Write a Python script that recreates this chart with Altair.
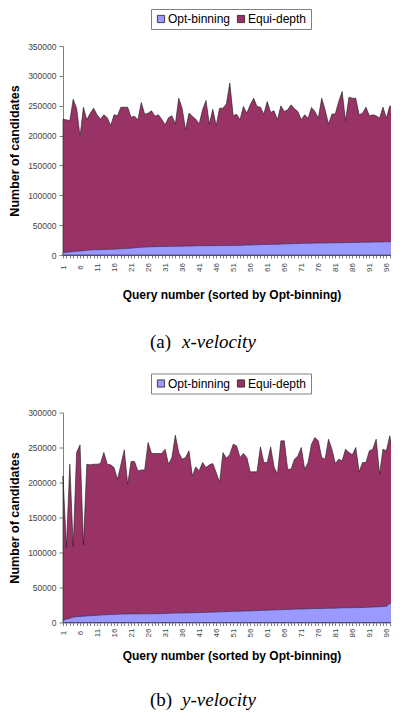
import altair as alt
import pandas as pd

# ---------------- data ----------------
queries = list(range(1, 101))
series_names = ["Opt-binning", "Equi-depth"]
series_colors = ["#9999FF", "#993366"]

# (a) x-velocity
x_opt = [4000, 4500, 5000, 5800, 6300, 6800, 7300, 7800, 8300, 8600,
         8800, 9000, 9200, 9400, 9600, 9800, 10100, 10400, 10700, 11000,
         11500, 12000, 12400, 12800, 13200, 13500, 13900, 14000, 14100, 14200,
         14300, 14400, 14500, 14600, 14700, 14800, 14900, 15000, 15200, 15400,
         15500, 15550, 15600, 15650, 15700, 15750, 15800, 15850, 15900, 15950,
         16000, 16100, 16200, 16400, 16600, 16800, 17000, 17200, 17400, 17600,
         17700, 17800, 17900, 18100, 18300, 18500, 18700, 18900, 19100, 19300,
         19500, 19600, 19700, 19800, 19900, 20000, 20100, 20200, 20300, 20400,
         20500, 20600, 20700, 20800, 20900, 21000, 21100, 21200, 21300, 21400,
         21500, 21600, 21700, 21800, 21900, 22000, 22200, 22500, 23500, 25000]
x_equi = [227500, 226400, 224800, 260900, 245800, 198600, 247500, 226400, 237500, 245800,
          234800, 227500, 234800, 230000, 217000, 234800, 233200, 247500, 247500, 247500,
          230800, 232500, 226400, 255400, 235800, 237500, 241500, 232500, 234800, 227500,
          218100, 230000, 233200, 219200, 262600, 245800, 209700, 237500, 232500, 227500,
          219200, 243100, 258700, 219200, 244000, 217000, 245800, 245800, 253200, 288000,
          233100, 235900, 226400, 248700, 237500, 251500, 262600, 248700, 247600, 235900,
          257000, 238700, 241500, 226400, 249800, 240300, 243100, 251500, 244800, 240300,
          226400, 234800, 229200, 247000, 240300, 229200, 262600, 243100, 219200, 235900,
          236500, 257000, 273700, 224800, 264200, 262600, 262600, 234800, 237500, 247600,
          233100, 234800, 233100, 229200, 247600, 229200, 249800, 245900, 247600, 247600]

# (b) y-velocity
y_opt = [3300, 4800, 6200, 7600, 8200, 8700, 9100, 9400, 9700, 10000,
         10300, 10600, 10900, 11200, 11400, 11600, 11800, 12000, 12100, 12200,
         12300, 12300, 12300, 12400, 12400, 12400, 12500, 12500, 12600, 12700,
         13000, 13200, 13300, 13400, 13500, 13600, 13700, 13800, 13900, 14000,
         14200, 14400, 14500, 14700, 14800, 15000, 15200, 15300, 15500, 15700,
         15900, 16000, 16100, 16300, 16400, 16600, 16800, 17000, 17200, 17400,
         17600, 17800, 18000, 18100, 18300, 18500, 18700, 18900, 19100, 19200,
         19300, 19400, 19500, 19700, 19900, 20000, 20100, 20200, 20300, 20400,
         20500, 20700, 20900, 21000, 21100, 21200, 21300, 21400, 21500, 21700,
         21900, 22100, 22300, 22600, 22900, 23300, 27000, 28000, 28200, 28300]
y_equi = [209400, 107100, 226100, 108000, 242800, 253700, 110900, 226100, 225200, 226100,
          226100, 227100, 242800, 226100, 225200, 221400, 204700, 225000, 246600, 197600,
          230000, 230000, 216600, 218000, 218000, 257100, 241400, 241400, 241400, 241400,
          247600, 226100, 235700, 267600, 242800, 233300, 235700, 245200, 209400, 222300,
          216600, 228600, 221400, 225200, 227100, 214300, 200000, 242800, 234700, 240000,
          254700, 252400, 235700, 241400, 235700, 215200, 215200, 215200, 250900, 228600,
          228600, 250900, 222300, 211900, 259500, 259500, 219000, 219000, 233300, 238000,
          250000, 219000, 228600, 254700, 264300, 259500, 235700, 233300, 261900, 247600,
          227100, 233300, 230900, 247600, 242900, 239500, 250000, 215200, 228600, 228600,
          245200, 247600, 261900, 211900, 247600, 245200, 266700, 235700, 228600, 230900]

ticks_a = [0, 50000, 100000, 150000, 200000, 250000, 300000, 350000]
ticks_b = [0, 50000, 100000, 150000, 200000, 250000, 300000]

x_title = "Query number (sorted by Opt-binning)"
y_title = "Number of candidates"

SANS = "Liberation Sans"
SERIF = "Liberation Serif"
PLOT_W = 337


def panel(opt, equi, ticks, height, legend_y, label_pad, title_pad,
          letter, word, cap_y):
    df = pd.DataFrame({
        "q": queries + queries,
        "v": opt + equi,
        "s": [series_names[0]] * len(opt) + [series_names[1]] * len(equi),
    })
    color = alt.Color(
        "s:N",
        scale=alt.Scale(domain=series_names, range=series_colors),
        legend=alt.Legend(
            title=None, orient="none", legendX=88, legendY=legend_y,
            direction="horizontal", symbolType="square", symbolSize=52,
            symbolStrokeColor="#222222", symbolStrokeWidth=0.8,
            symbolOpacity=1,
            labelFont=SANS, labelFontSize=12, labelColor="black",
            labelOffset=1, columnPadding=4, padding=4,
            strokeColor="#808080", fillColor="white",
        ),
    )
    x = alt.X(
        "q:Q", title=x_title,
        scale=alt.Scale(domain=[1, 100], nice=False, zero=False),
        axis=alt.Axis(
            values=queries, grid=False,
            labelExpr="(datum.value - 1) % 5 == 0 ? datum.label : ''",
            labelAngle=270, labelAlign="center", labelBaseline="middle",
            labelOverlap=False, labelFlush=False,
            labelFont=SANS, labelFontSize=8, labelColor="#444444",
            labelPadding=label_pad, tickSize=3, tickColor="#808080",
            domainColor="#808080",
            titleFont=SANS, titleFontSize=12, titleFontWeight="bold",
            titleColor="black", titlePadding=title_pad,
        ),
    )
    y = alt.Y(
        "v:Q", title=y_title, stack=None,
        scale=alt.Scale(domain=[0, ticks[-1]], nice=False),
        axis=alt.Axis(
            values=ticks, format="d", grid=False,
            labelFont=SANS, labelFontSize=8.5, labelColor="#444444",
            labelPadding=3, tickSize=4, tickColor="#808080",
            domainColor="#808080",
            titleFont=SANS, titleFontSize=12.5, titleFontWeight="bold",
            titleColor="black", titlePadding=6,
        ),
    )
    base = alt.Chart(df)
    equi_layer = base.transform_filter(alt.datum.s == series_names[1]).mark_area(
        stroke="#1a1a1a", strokeWidth=0.6, opacity=1
    ).encode(x=x, y=y, color=color)
    opt_layer = base.transform_filter(alt.datum.s == series_names[0]).mark_area(
        stroke="#2b2b55", strokeWidth=0.6, opacity=1
    ).encode(x=x, y=y, color=color)

    cap1 = alt.Chart(pd.DataFrame({"t": [letter]})).mark_text(
        font=SERIF, fontSize=19, align="left", baseline="alphabetic", color="black"
    ).encode(text="t:N", x=alt.value(87), y=alt.value(cap_y))
    cap2 = alt.Chart(pd.DataFrame({"t": [word]})).mark_text(
        font=SERIF, fontSize=19, fontStyle="italic", align="left",
        baseline="alphabetic", color="black"
    ).encode(text="t:N", x=alt.value(119), y=alt.value(cap_y))

    return alt.layer(equi_layer, opt_layer, cap1, cap2).properties(
        width=PLOT_W, height=height
    )


top = panel(x_opt, x_equi, ticks_a, 209, -37, 9, 18, "(a)", "x-velocity", 302)
bottom = panel(y_opt, y_equi, ticks_b, 210, -39, 7, 14, "(b)", "y-velocity", 293)

chart = alt.vconcat(top, bottom, spacing=20.5).resolve_scale(
    color="independent"
).resolve_legend(color="independent").properties(
    padding={"left": 0, "top": 0, "right": -13, "bottom": 4},
    background="white",
).configure_view(stroke=None)

chart.save("out.html", embed_options={"renderer": "svg", "actions": False})
